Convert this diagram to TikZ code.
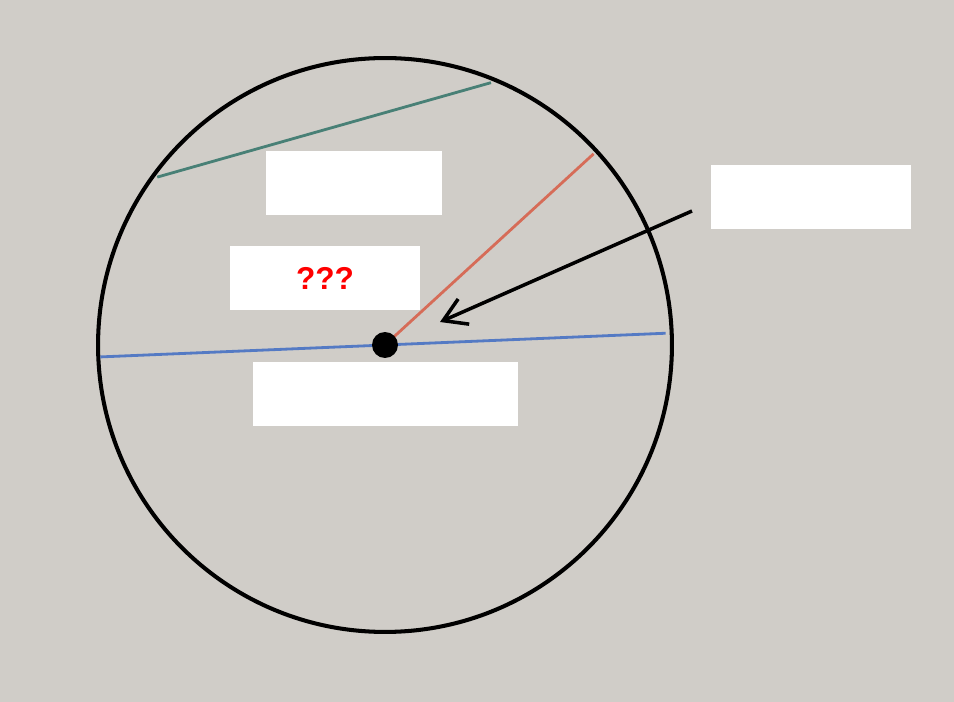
\documentclass[tikz,border=0pt]{standalone}
\usepackage{fontspec}
\setmainfont{Liberation Sans}
\usetikzlibrary{arrows.meta,calc}
\definecolor{paper}{RGB}{208,205,200}
\definecolor{chordgreen}{RGB}{72,128,118}
\definecolor{radiusred}{RGB}{214,108,88}
\definecolor{diamblue}{RGB}{84,122,196}
\begin{document}
\begin{tikzpicture}[x=0.02cm,y=-0.02cm,
  label box/.style={fill=white,inner sep=0pt,minimum height=1.28cm},
  seg/.style={line width=1.6pt}]
\fill[paper] (0,0) rectangle (954,702);
\useasboundingbox (0,0) rectangle (954,702);
\coordinate (ctr) at (385,345);
\draw[line width=2.3pt] (ctr) circle[radius=5.74cm];
% chord, radius, diameter
\draw[seg,chordgreen] ($(ctr)+(143.6:5.66cm)$) coordinate (ch1) -- ($(ctr)+(68:5.66cm)$) coordinate (ch2);
\draw[seg,radiusred] (ctr) -- ($(ctr)+(42.5:5.66cm)$) coordinate (rad);
\draw[seg,diamblue] ($(ctr)+(182.4:5.7cm)$) coordinate (d1) -- ($(ctr)+(2.4:5.62cm)$) coordinate (d2);
\fill (ctr) circle[radius=0.26cm];
% labels
\node[label box,minimum width=3.52cm] (chordlbl) at (354,183) {};
\node[label box,minimum width=3.8cm,text=red,font=\bfseries\fontsize{18}{20}\selectfont] (radlbl) at (325,278) {???};
\node[label box,minimum width=5.3cm] (ctrlbl) at (385.5,394) {};
\node[label box,minimum width=4cm] (ptlbl) at (811,197) {};
\coordinate (arrstart) at (692,211);
\coordinate (arrtip) at (440,322);
\draw[line width=2pt,-{Straight Barb[length=0.45cm,width=0.55cm]}] (arrstart) -- (arrtip);
\end{tikzpicture}
\end{document}
